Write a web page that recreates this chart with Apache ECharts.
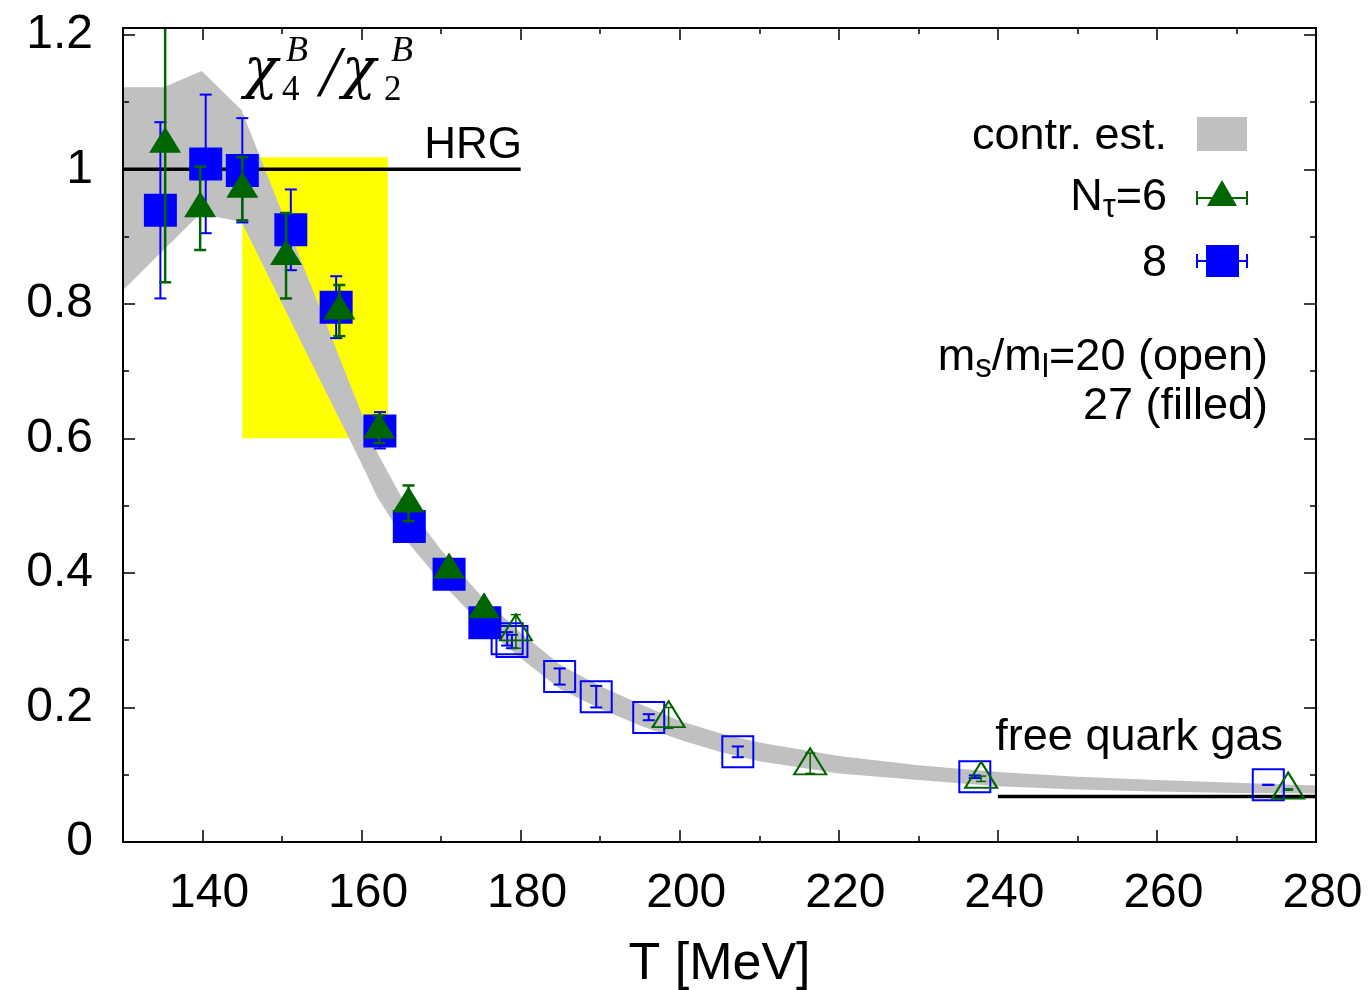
<!DOCTYPE html>
<html><head><meta charset="utf-8">
<script src="https://cdn.jsdelivr.net/npm/echarts@6/dist/echarts.min.js"></script>
<style>html,body{margin:0;padding:0;background:#fff}#c{width:1372px;height:990px}</style>
</head><body><div id="c"></div>
<script>
// ---- axis ticks ----
const xTickValues = [140, 160, 180, 200, 220, 240, 260, 280];
const xMinorValues = [150, 170, 190, 210, 230, 250, 270];
const yTickValues = [0, 0.2, 0.4, 0.6, 0.8, 1, 1.2];
const yMinorValues = [0.1, 0.3, 0.5, 0.7, 0.9, 1.1];

// ---- N_tau = 8, ms/ml = 27 (filled squares) ----
const n8FilledT  = [134.7, 140.4, 145.0, 151.1, 156.8, 162.3, 166.0, 171.0, 175.5];
const n8FilledV  = [0.939, 1.008, 0.998, 0.910, 0.795, 0.611, 0.469, 0.398, 0.326];
const n8FilledLo = [0.808, 0.905, 0.921, 0.850, 0.749, 0.585, 0.455, 0.388, 0.316];
const n8FilledHi = [1.070, 1.111, 1.076, 0.970, 0.841, 0.639, 0.483, 0.408, 0.336];

// ---- N_tau = 6, ms/ml = 27 (filled triangles) ----
const n6FilledT  = [135.3, 139.7, 145.0, 150.5, 157.2, 162.2, 165.9, 171.0, 175.4];
const n6FilledV  = [1.038, 0.942, 0.971, 0.871, 0.790, 0.613, 0.503, 0.405, 0.346];
const n6FilledLo = [0.832, 0.880, 0.924, 0.808, 0.752, 0.593, 0.477, 0.395, 0.336];
const n6FilledHi = [1.300, 1.004, 1.018, 0.935, 0.828, 0.634, 0.530, 0.415, 0.356];

// ---- N_tau = 8, ms/ml = 20 (open squares) ----
const n8OpenT  = [178.3, 178.9, 184.9, 189.5, 196.1, 207.3, 237.1, 274.0];
const n8OpenV  = [0.302, 0.298, 0.246, 0.216, 0.185, 0.134, 0.097, 0.085];
const n8OpenLo = [0.292, 0.288, 0.234, 0.200, 0.181, 0.126, 0.095, 0.085];
const n8OpenHi = [0.312, 0.308, 0.258, 0.232, 0.190, 0.142, 0.099, 0.085];

// ---- N_tau = 6, ms/ml = 20 (open triangles) ----
const n6OpenT  = [179.4, 198.6, 216.4, 237.9, 276.5];
const n6OpenV  = [0.313, 0.184, 0.114, 0.094, 0.078];
const n6OpenLo = [0.288, 0.169, 0.102, 0.090, 0.077];
const n6OpenHi = [0.338, 0.200, 0.132, 0.098, 0.079];

// ---- continuum estimate band ----
const bandUpT = [130, 135.1, 139.9, 144.9, 160, 162, 165, 170, 175, 180, 185, 190, 195, 200, 205, 210, 220, 230, 240, 250, 260, 270, 280];
const bandUpV = [1.122, 1.122, 1.146, 1.088, 0.637, 0.578, 0.513, 0.434, 0.366, 0.311, 0.263, 0.232, 0.205, 0.180, 0.162, 0.148, 0.128, 0.114, 0.104, 0.097, 0.092, 0.088, 0.084];
const bandLoT = [130, 139.7, 144.9, 159.8, 162, 165, 170, 175, 180, 185, 190, 195, 200, 205, 210, 220, 230, 240, 250, 260, 270, 280];
const bandLoV = [0.820, 0.934, 0.922, 0.567, 0.512, 0.457, 0.386, 0.324, 0.273, 0.227, 0.198, 0.173, 0.152, 0.134, 0.120, 0.102, 0.092, 0.083, 0.078, 0.075, 0.073, 0.072];

// ---- yellow region ----
const yellowT = [145, 163.3];
const yellowV = [0.6, 1.018];

// ---- reference lines ----
const hrgT = [130, 180];
const hrgV = 1.0;
const fqgT = [240, 280];
const fqgV = 0.0675;

const BLUE = '#0000ff', GREEN = '#006400', GREY = '#c0c0c0';
const SANS = "'Liberation Sans', Arial, Helvetica, sans-serif";
const SERIF = "'Liberation Serif', 'Times New Roman', serif";
const CHI = "'DejaVu Serif', 'Liberation Serif', serif";

function pairs(T, V) { return T.map((t, i) => [t, V[i]]); }
function triples(T, Lo, Hi) { return T.map((t, i) => [t, Lo[i], Hi[i]]); }

function errRender(color, cap, lw) {
  return function (params, api) {
    const t = api.value(0), lo = api.value(1), hi = api.value(2);
    const p1 = api.coord([t, lo]), p2 = api.coord([t, hi]);
    const st = { stroke: color, lineWidth: lw };
    return { type: 'group', children: [
      { type: 'line', shape: { x1: p1[0], y1: p1[1], x2: p2[0], y2: p2[1] }, style: st },
      { type: 'line', shape: { x1: p1[0] - cap, y1: p1[1], x2: p1[0] + cap, y2: p1[1] }, style: st },
      { type: 'line', shape: { x1: p2[0] - cap, y1: p2[1], x2: p2[0] + cap, y2: p2[1] }, style: st }
    ] };
  };
}

function xAx(pos, vals, len, labels, name) {
  const a = {
    type: 'value', min: 130, max: 280, position: pos, z: 10,
    axisLine: { show: true, onZero: false, lineStyle: { color: '#000', width: 2 } },
    axisTick: { show: true, inside: true, length: len, customValues: vals, lineStyle: { color: '#000', width: 1.5 } },
    axisLabel: { show: labels, customValues: vals, margin: 28, padding: [0, 0, 0, 13], color: '#000', fontSize: 48, fontFamily: SANS },
    splitLine: { show: false }, minorTick: { show: false }
  };
  if (name) {
    a.name = name; a.nameLocation = 'middle'; a.nameGap = 97;
    a.nameTextStyle = { color: '#000', fontSize: 52, fontFamily: SANS };
  }
  return a;
}
function yAx(pos, vals, len, labels) {
  return {
    type: 'value', min: 0, max: 1.21, position: pos, z: 10,
    axisLine: { show: true, onZero: false, lineStyle: { color: '#000', width: 2 } },
    axisTick: { show: true, inside: true, length: len, customValues: vals, lineStyle: { color: '#000', width: 1.5 } },
    axisLabel: { show: labels, customValues: vals, margin: 30, color: '#000', fontSize: 48, fontFamily: SANS },
    splitLine: { show: false }, minorTick: { show: false }
  };
}

const chart = echarts.init(document.getElementById('c'), null, { renderer: 'canvas' });

const option = {
  animation: false,
  backgroundColor: '#fff',
  grid: { left: 123, right: 56, top: 28, bottom: 148, containLabel: false, outerBoundsMode: 'none' },
  xAxis: [
    xAx('bottom', xTickValues, 12, true, 'T [MeV]'),
    xAx('bottom', xMinorValues, 6, false),
    xAx('top', xTickValues, 12, false),
    xAx('top', xMinorValues, 6, false)
  ],
  yAxis: [
    yAx('left', yTickValues, 12, true),
    yAx('left', yMinorValues, 6, false),
    yAx('right', yTickValues, 12, false),
    yAx('right', yMinorValues, 6, false)
  ],
  series: [
    {
      type: 'custom', name: 'yellow', z: 1, silent: true,
      data: [[yellowT[0], yellowV[0], yellowT[1], yellowV[1]]],
      renderItem: function (params, api) {
        const a = api.coord([api.value(0), api.value(3)]);
        const b = api.coord([api.value(2), api.value(1)]);
        return { type: 'rect', shape: { x: a[0], y: a[1], width: b[0] - a[0], height: b[1] - a[1] }, style: { fill: '#ffff00' } };
      }
    },
    {
      type: 'custom', name: 'contr. est.', z: 2, silent: true,
      data: [[bandUpT[0], bandUpV[0]]],
      renderItem: function (params, api) {
        const pts = [];
        for (let i = 0; i < bandUpT.length; i++) pts.push(api.coord([bandUpT[i], bandUpV[i]]));
        for (let i = bandLoT.length - 1; i >= 0; i--) pts.push(api.coord([bandLoT[i], bandLoV[i]]));
        return { type: 'polygon', shape: { points: pts }, style: { fill: GREY } };
      }
    },
    {
      type: 'line', name: 'HRG', z: 3, silent: true, symbol: 'none',
      data: hrgT.map(t => [t, hrgV]), lineStyle: { color: '#000', width: 3.5, opacity: 1 }
    },
    {
      type: 'line', name: 'free quark gas', z: 3, silent: true, symbol: 'none',
      data: fqgT.map(t => [t, fqgV]), lineStyle: { color: '#000', width: 3.5, opacity: 1 }
    },
    // open points (ms/ml = 20)
    {
      type: 'custom', z: 4, clip: true, silent: true, encode: { x: 0, y: [1, 2] },
      data: triples(n8OpenT, n8OpenLo, n8OpenHi), renderItem: errRender(BLUE, 6, 2)
    },
    {
      type: 'scatter', z: 4, silent: true, symbol: 'rect', symbolSize: 31,
      data: pairs(n8OpenT, n8OpenV),
      itemStyle: { color: 'rgba(0,0,0,0)', borderColor: BLUE, borderWidth: 2, opacity: 1 }
    },
    {
      type: 'custom', z: 4, clip: true, silent: true, encode: { x: 0, y: [1, 2] },
      data: triples(n6OpenT, n6OpenLo, n6OpenHi), renderItem: errRender(GREEN, 5, 1.5)
    },
    {
      type: 'scatter', z: 4, silent: true, symbol: 'triangle', symbolSize: [32, 26], symbolOffset: [0, -4],
      data: pairs(n6OpenT, n6OpenV),
      itemStyle: { color: 'rgba(0,0,0,0)', borderColor: GREEN, borderWidth: 2, opacity: 1 }
    },
    // filled points (ms/ml = 27)
    {
      type: 'custom', z: 5, clip: true, silent: true, encode: { x: 0, y: [1, 2] },
      data: triples(n8FilledT, n8FilledLo, n8FilledHi), renderItem: errRender(BLUE, 6, 2)
    },
    {
      type: 'scatter', z: 5, silent: true, symbol: 'rect', symbolSize: 33,
      data: pairs(n8FilledT, n8FilledV), itemStyle: { color: BLUE, opacity: 1 }
    },
    {
      type: 'custom', z: 6, clip: true, silent: true, encode: { x: 0, y: [1, 2] },
      data: triples(n6FilledT, n6FilledLo, n6FilledHi), renderItem: errRender(GREEN, 6, 2.5)
    },
    {
      type: 'scatter', z: 6, silent: true, symbol: 'triangle', symbolSize: [32, 26], symbolOffset: [0, -4],
      data: pairs(n6FilledT, n6FilledV), itemStyle: { color: GREEN, opacity: 1 }
    }
  ],
  graphic: [
    // title chi_4^B / chi_2^B
    { type: 'text', x: 244, y: 72, z: 20, style: { text: 'χ', font: 'italic 56px ' + CHI, fill: '#000', verticalAlign: 'middle' } },
    { type: 'text', x: 282, y: 91, z: 20, style: { text: '4', font: '35px ' + SERIF, fill: '#000', verticalAlign: 'middle' } },
    { type: 'text', x: 286, y: 52, z: 20, style: { text: 'B', font: 'italic 36px ' + SERIF, fill: '#000', verticalAlign: 'middle' } },
    { type: 'text', x: 320, y: 76, z: 20, style: { text: '/', font: 'italic 72px ' + SERIF, fill: '#000', verticalAlign: 'middle' } },
    { type: 'text', x: 342, y: 72, z: 20, style: { text: 'χ', font: 'italic 56px ' + CHI, fill: '#000', verticalAlign: 'middle' } },
    { type: 'text', x: 384, y: 91, z: 20, style: { text: '2', font: '35px ' + SERIF, fill: '#000', verticalAlign: 'middle' } },
    { type: 'text', x: 391, y: 52, z: 20, style: { text: 'B', font: 'italic 36px ' + SERIF, fill: '#000', verticalAlign: 'middle' } },
    // annotations
    { type: 'text', x: 522, y: 146, z: 20, style: { text: 'HRG', font: '44px ' + SANS, fill: '#000', align: 'right', verticalAlign: 'middle' } },
    { type: 'text', x: 1283, y: 738, z: 20, style: { text: 'free quark gas', font: '45px ' + SANS, fill: '#000', align: 'right', verticalAlign: 'middle' } },
    // legend
    { type: 'text', x: 1167, y: 137, z: 20, style: { text: 'contr. est.', font: '45px ' + SANS, fill: '#000', align: 'right', verticalAlign: 'middle' } },
    { type: 'rect', z: 20, shape: { x: 1197, y: 117, width: 50, height: 34 }, style: { fill: GREY } },
    { type: 'text', x: 1167, y: 198, z: 20, style: {
        text: '{a|N}{s|τ}{a|=6}', align: 'right', verticalAlign: 'middle', fill: '#000',
        rich: { a: { fontSize: 45, fontFamily: SANS, lineHeight: 52, verticalAlign: 'middle' },
                s: { fontSize: 33, fontFamily: SANS, lineHeight: 26, verticalAlign: 'bottom' } } } },
    { type: 'line', z: 20, shape: { x1: 1197, y1: 198, x2: 1247, y2: 198 }, style: { stroke: GREEN, lineWidth: 2 } },
    { type: 'line', z: 20, shape: { x1: 1197, y1: 191, x2: 1197, y2: 205 }, style: { stroke: GREEN, lineWidth: 2 } },
    { type: 'line', z: 20, shape: { x1: 1247, y1: 191, x2: 1247, y2: 205 }, style: { stroke: GREEN, lineWidth: 2 } },
    { type: 'polygon', z: 21, shape: { points: [[1222, 180], [1237, 206], [1207, 206]] }, style: { fill: GREEN } },
    { type: 'text', x: 1167, y: 264, z: 20, style: { text: '8', font: '45px ' + SANS, fill: '#000', align: 'right', verticalAlign: 'middle' } },
    { type: 'line', z: 20, shape: { x1: 1197, y1: 261, x2: 1247, y2: 261 }, style: { stroke: BLUE, lineWidth: 2 } },
    { type: 'line', z: 20, shape: { x1: 1197, y1: 254, x2: 1197, y2: 268 }, style: { stroke: BLUE, lineWidth: 2 } },
    { type: 'line', z: 20, shape: { x1: 1247, y1: 254, x2: 1247, y2: 268 }, style: { stroke: BLUE, lineWidth: 2 } },
    { type: 'rect', z: 21, shape: { x: 1206, y: 245, width: 33, height: 32 }, style: { fill: BLUE } },
    { type: 'text', x: 1268, y: 358, z: 20, style: {
        text: '{a|m}{s|s}{a|/m}{s|l}{a|=20 (open)}', align: 'right', verticalAlign: 'middle', fill: '#000',
        rich: { a: { fontSize: 45, fontFamily: SANS, lineHeight: 52, verticalAlign: 'middle' },
                s: { fontSize: 33, fontFamily: SANS, lineHeight: 26, verticalAlign: 'bottom' } } } },
    { type: 'text', x: 1268, y: 407, z: 20, style: { text: '27 (filled)', font: '45px ' + SANS, fill: '#000', align: 'right', verticalAlign: 'middle' } }
  ]
};
chart.setOption(option);
</script>
</body></html>
